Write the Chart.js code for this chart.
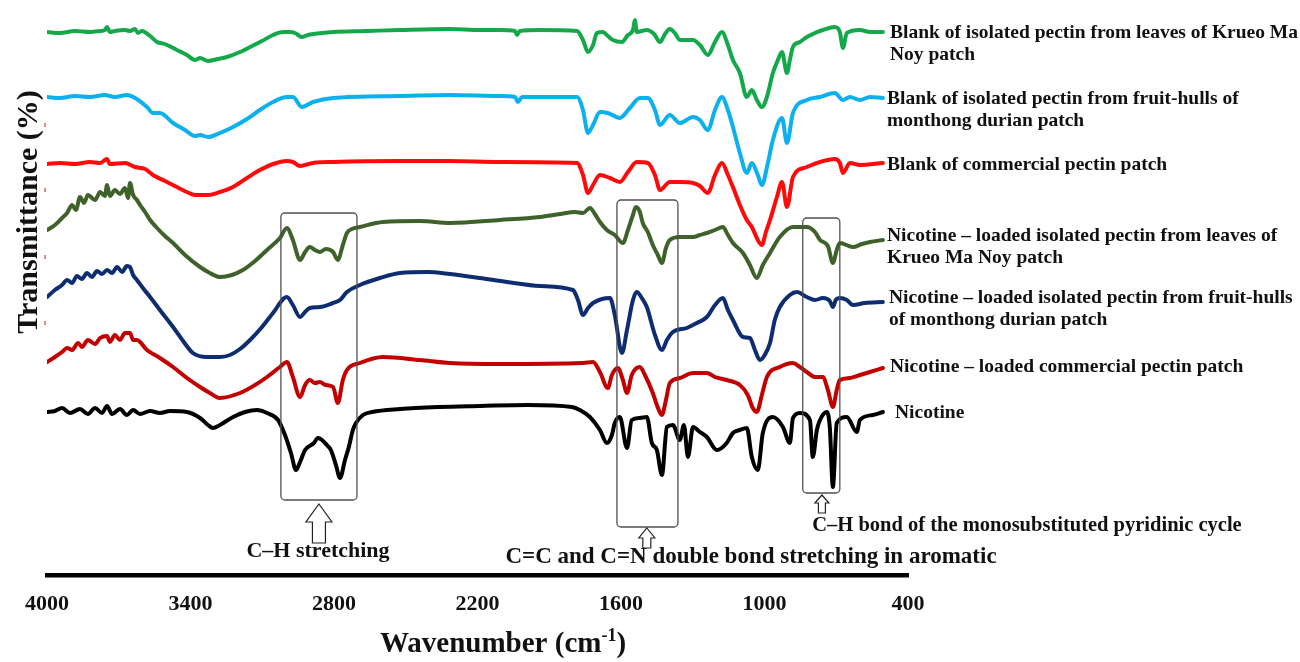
<!DOCTYPE html>
<html><head><meta charset="utf-8">
<script src="https://cdn.jsdelivr.net/npm/chart.js@4.4.1/dist/chart.umd.min.js"></script>
<style>html,body{margin:0;padding:0;background:#fff}#wrap{width:1300px;height:662px;position:relative}</style>
</head><body><div id="wrap"><canvas id="c"></canvas></div>
<script>
// ---- DATA (wavenumber cm-1, relative transmittance with vertical offsets) ----
const xTickValues = [4000, 3400, 2800, 2200, 1600, 1000, 400];

const seriesNames = [
  ["Blank of isolated pectin from leaves of Krueo Ma", "Noy patch"],
  ["Blank of isolated pectin from fruit-hulls of", "monthong durian patch"],
  ["Blank of commercial pectin patch"],
  ["Nicotine \u2013 loaded isolated pectin from leaves of", "Krueo Ma Noy patch"],
  ["Nicotine \u2013 loaded isolated pectin from fruit-hulls", "of monthong durian patch"],
  ["Nicotine \u2013 loaded commercial pectin patch"],
  ["Nicotine"]
];

const blankLeaves = [[4000,543],[3946,542],[3883,544],[3820,543],[3778,544],[3758,545],[3749,548],[3737,543],[3716,544],[3674,545],[3653,544],[3632,546],[3620,542],[3603,544],[3569,539],[3540,533],[3507,531],[3457,525],[3415,520],[3381,515],[3360,517],[3327,514],[3285,516],[3248,518],[3193,523],[3151,528],[3101,534],[3055,540],[3013,543],[2984,543],[2963,542],[2934,538],[2909,540],[2888,541],[2804,543],[2662,544],[2524,545],[2315,546],[2190,545],[2106,545],[2043,544],[2035,540],[2023,544],[1939,545],[1784,544],[1759,535],[1738,523],[1717,530],[1701,542],[1676,543],[1655,539],[1634,535],[1596,533],[1571,540],[1550,545],[1542,555],[1534,543],[1492,545],[1462,541],[1437,533],[1416,541],[1396,546],[1375,542],[1354,535],[1299,535],[1270,530],[1237,520],[1207,533],[1178,543],[1153,530],[1132,515],[1103,502],[1074,478],[1053,485],[1032,475],[1011,468],[990,478],[965,502],[944,515],[927,523],[906,502],[894,515],[881,528],[852,533],[823,538],[789,542],[756,545],[706,548],[685,543],[672,527],[656,542],[601,545],[559,543],[505,543]];

const blankDurian = [[4000,478],[3946,477],[3883,479],[3820,478],[3758,480],[3716,478],[3666,480],[3632,477],[3582,468],[3557,462],[3528,462],[3473,452],[3423,445],[3381,439],[3360,440],[3327,438],[3277,442],[3222,448],[3164,456],[3110,465],[3055,473],[2997,478],[2972,478],[2934,468],[2888,473],[2804,477],[2524,479],[2315,480],[2106,479],[2043,478],[2031,473],[2014,478],[1784,478],[1759,465],[1738,442],[1717,450],[1688,463],[1655,462],[1605,457],[1563,467],[1521,477],[1488,477],[1458,465],[1437,450],[1396,460],[1354,452],[1299,458],[1270,455],[1237,445],[1207,465],[1178,478],[1153,465],[1132,448],[1103,422],[1074,402],[1053,412],[1028,400],[1011,390],[986,412],[965,435],[927,457],[906,432],[881,462],[823,475],[768,478],[706,482],[672,475],[643,478],[601,475],[559,478],[505,477]];

const blankCommercial = [[4000,411],[3946,412],[3883,411],[3820,413],[3778,412],[3749,416],[3737,411],[3674,412],[3632,408],[3590,406],[3557,400],[3507,394],[3457,388],[3415,383],[3381,380],[3327,380],[3277,383],[3222,388],[3164,397],[3110,405],[3055,411],[2997,414],[2972,413],[2942,409],[2888,412],[2804,413],[2524,414],[2315,414],[2106,413],[1784,412],[1759,400],[1738,382],[1717,390],[1688,400],[1646,397],[1605,393],[1571,403],[1534,413],[1488,412],[1458,400],[1437,385],[1396,393],[1354,393],[1299,392],[1270,389],[1237,382],[1207,400],[1178,412],[1153,400],[1132,388],[1103,370],[1074,355],[1053,348],[1028,335],[1011,330],[994,343],[977,355],[948,378],[927,393],[906,368],[881,398],[823,408],[768,413],[706,416],[685,412],[672,402],[643,412],[601,410],[505,412]];

const loadedLeaves = [[4000,345],[3967,350],[3937,357],[3916,362],[3895,370],[3879,365],[3862,378],[3845,372],[3829,380],[3799,375],[3778,383],[3758,379],[3749,390],[3737,379],[3716,385],[3695,381],[3674,387],[3661,377],[3653,392],[3640,380],[3624,375],[3611,370],[3590,363],[3569,355],[3540,347],[3507,339],[3473,332],[3423,320],[3360,308],[3319,302],[3277,298],[3227,300],[3181,305],[3130,314],[3080,325],[3026,337],[2997,347],[2972,335],[2942,315],[2921,323],[2901,328],[2880,325],[2859,323],[2834,326],[2804,323],[2784,315],[2763,330],[2746,342],[2725,346],[2692,348],[2595,353],[2441,354],[2315,352],[2106,355],[1939,358],[1855,361],[1793,363],[1759,362],[1730,367],[1709,361],[1688,353],[1659,345],[1626,340],[1592,332],[1571,345],[1550,360],[1538,368],[1521,363],[1509,352],[1488,343],[1467,330],[1446,320],[1429,312],[1412,327],[1396,335],[1354,338],[1299,338],[1270,340],[1241,342],[1207,345],[1174,348],[1153,340],[1132,332],[1090,322],[1061,310],[1032,297],[1007,310],[977,322],[936,338],[881,348],[823,348],[789,343],[768,335],[735,329],[714,312],[698,325],[685,332],[630,328],[593,331],[559,333],[505,335]];

const loadedDurian = [[4000,278],[3967,285],[3937,290],[3916,295],[3895,292],[3875,299],[3854,296],[3833,302],[3812,298],[3791,304],[3770,301],[3749,305],[3728,302],[3707,308],[3686,303],[3666,309],[3653,308],[3640,300],[3624,295],[3599,287],[3569,278],[3528,265],[3473,248],[3431,234],[3390,222],[3331,218],[3277,218],[3235,220],[3193,226],[3151,235],[3101,248],[3055,262],[2997,278],[2972,270],[2942,258],[2921,263],[2901,267],[2859,268],[2804,272],[2775,275],[2746,283],[2692,290],[2608,297],[2524,302],[2411,303],[2315,301],[2190,297],[2077,293],[1939,289],[1801,285],[1780,275],[1759,260],[1738,267],[1717,272],[1646,277],[1626,260],[1596,222],[1575,245],[1550,275],[1534,283],[1513,277],[1492,268],[1458,240],[1429,225],[1408,235],[1383,243],[1325,247],[1283,252],[1241,258],[1207,270],[1174,277],[1153,265],[1132,255],[1090,238],[1061,237],[1040,225],[1019,215],[999,220],[977,232],[957,255],[936,268],[894,280],[865,283],[823,278],[789,275],[756,277],[727,274],[714,268],[702,275],[685,277],[656,275],[630,270],[581,272],[505,273]];

const loadedCommercial = [[4000,213],[3967,218],[3937,223],[3916,227],[3895,225],[3870,232],[3854,228],[3829,235],[3799,231],[3778,237],[3749,239],[3737,233],[3716,240],[3695,235],[3674,242],[3653,242],[3640,235],[3624,235],[3582,225],[3528,217],[3473,208],[3415,197],[3360,188],[3319,182],[3277,177],[3193,182],[3130,190],[3080,198],[3026,208],[2997,213],[2972,198],[2942,178],[2921,190],[2901,195],[2880,192],[2859,193],[2834,190],[2804,188],[2784,172],[2763,195],[2746,205],[2692,212],[2595,218],[2441,215],[2315,212],[2106,211],[1759,212],[1717,213],[1688,203],[1655,187],[1638,200],[1613,207],[1592,195],[1575,182],[1555,200],[1521,208],[1500,200],[1467,182],[1450,170],[1429,160],[1412,175],[1396,192],[1354,197],[1299,202],[1241,202],[1207,198],[1158,195],[1103,190],[1070,180],[1049,167],[1032,163],[1011,180],[990,198],[936,208],[881,212],[852,208],[823,203],[789,198],[756,198],[735,185],[714,168],[698,185],[685,195],[643,197],[601,200],[559,203],[505,207]];

const nicotine = [[4000,163],[3967,164],[3937,167],[3904,162],[3862,166],[3829,161],[3799,167],[3770,162],[3749,169],[3728,161],[3695,166],[3666,160],[3640,165],[3611,161],[3569,164],[3528,162],[3486,164],[3415,163],[3360,157],[3327,150],[3306,147],[3277,150],[3222,158],[3172,163],[3122,165],[3080,162],[3034,155],[3005,140],[2980,122],[2959,105],[2942,113],[2921,125],[2884,132],[2867,137],[2850,135],[2830,130],[2813,125],[2792,110],[2775,97],[2754,115],[2738,128],[2721,145],[2708,152],[2679,160],[2641,163],[2524,166],[2361,168],[2190,169],[1989,170],[1805,168],[1772,165],[1730,158],[1688,145],[1659,132],[1638,140],[1626,152],[1605,158],[1575,127],[1555,155],[1521,157],[1492,158],[1471,132],[1450,125],[1429,100],[1408,148],[1383,150],[1354,135],[1337,150],[1320,118],[1299,148],[1270,143],[1241,138],[1199,125],[1158,132],[1132,142],[1103,145],[1074,147],[1053,118],[1028,105],[1007,142],[965,158],[923,148],[894,132],[881,157],[852,162],[810,155],[798,118],[781,145],[768,155],[739,163],[727,148],[714,88],[698,152],[656,158],[614,143],[601,155],[547,160],[505,163]];

// ---- STYLE ----
const seriesData = [blankLeaves, blankDurian, blankCommercial, loadedLeaves, loadedDurian, loadedCommercial, nicotine];
const seriesColors = ['#14a84b', '#0db0ee', '#ff0a0a', '#3e6229', '#0e2d70', '#c20000', '#000000'];
const labelPos = [[890, 33], [887, 99], [887, 165], [887, 236], [889, 298], [890, 367], [895, 413]];

const boxes = [
  {wnFrom: 3022, wnTo: 2704, tTop: 362, tBottom: 75},
  {wnFrom: 1617, wnTo: 1362, tTop: 375, tBottom: 48},
  {wnFrom: 840, wnTo: 685, tTop: 357, tBottom: 82}
];
const arrows = [
  {wn: 2863, tTip: 71, tBase: 53, tEnd: 32, head: 13, shaft: 6.5},
  {wn: 1492, tTip: 47, tBase: 37, tEnd: 27, head: 8, shaft: 4},
  {wn: 760, tTip: 80, tBase: 72, tEnd: 62, head: 7, shaft: 3.5}
];
const annotTexts = [
  {text: 'C\u2013H stretching', x: 318, y: 551, size: 22},
  {text: 'C=C and C=N double bond stretching in aromatic', x: 751, y: 557, size: 23},
  {text: 'C\u2013H bond of the monosubstituted pyridinic cycle', x: 1027, y: 526, size: 20.5}
];

const FAM = '"Liberation Serif","Times New Roman",serif';
const font = s => 'bold ' + s + 'px ' + FAM;

function rr(ctx, x, y, w, h, r) {
  ctx.beginPath();
  ctx.moveTo(x + r, y); ctx.lineTo(x + w - r, y); ctx.arcTo(x + w, y, x + w, y + r, r);
  ctx.lineTo(x + w, y + h - r); ctx.arcTo(x + w, y + h, x + w - r, y + h, r);
  ctx.lineTo(x + r, y + h); ctx.arcTo(x, y + h, x, y + h - r, r);
  ctx.lineTo(x, y + r); ctx.arcTo(x, y, x + r, y, r); ctx.closePath();
}

const overlay = {
  id: 'overlay',
  afterDatasetsDraw(chart) {
    const ctx = chart.ctx, xs = chart.scales.x, ys = chart.scales.y;
    ctx.save();
    // boxes
    ctx.strokeStyle = '#505050'; ctx.lineWidth = 1.3;
    boxes.forEach(b => {
      const x1 = xs.getPixelForValue(b.wnFrom), x2 = xs.getPixelForValue(b.wnTo);
      const y1 = ys.getPixelForValue(b.tTop), y2 = ys.getPixelForValue(b.tBottom);
      rr(ctx, x1, y1, x2 - x1, y2 - y1, 4); ctx.stroke();
    });
    // hollow arrows
    ctx.fillStyle = '#fff'; ctx.strokeStyle = '#222'; ctx.lineWidth = 1.2;
    arrows.forEach(a => {
      const cx = xs.getPixelForValue(a.wn), yt = ys.getPixelForValue(a.tTip),
            yb = ys.getPixelForValue(a.tBase), ye = ys.getPixelForValue(a.tEnd);
      ctx.beginPath();
      ctx.moveTo(cx, yt); ctx.lineTo(cx + a.head, yb); ctx.lineTo(cx + a.shaft, yb);
      ctx.lineTo(cx + a.shaft, ye); ctx.lineTo(cx - a.shaft, ye); ctx.lineTo(cx - a.shaft, yb);
      ctx.lineTo(cx - a.head, yb); ctx.closePath(); ctx.fill(); ctx.stroke();
    });
    // small marks at left edge
    ctx.fillStyle = '#e58a8a';
    [450, 385, 318, 252].forEach(t => { const y = ys.getPixelForValue(t); ctx.fillRect(44, y - 2, 2, 4); });
    // series labels
    ctx.fillStyle = '#111'; ctx.textBaseline = 'middle'; ctx.textAlign = 'left';
    ctx.font = font(19.5);
    seriesNames.forEach((lines, i) => {
      const [lx, ly] = labelPos[i];
      lines.forEach((ln, j) => ctx.fillText(ln, lx, ly + j * 22));
    });
    // annotation texts
    ctx.textAlign = 'center';
    annotTexts.forEach(a => { ctx.font = font(a.size); ctx.fillText(a.text, a.x, a.y); });
    // x axis title with superscript
    const t1 = 'Wavenumber (cm', sup = '-1', t2 = ')';
    ctx.textBaseline = 'alphabetic';
    ctx.font = font(29); const w1 = ctx.measureText(t1).width, w3 = ctx.measureText(t2).width;
    ctx.font = font(18); const w2 = ctx.measureText(sup).width;
    const sx = 503 - (w1 + w2 + w3) / 2; const by = 652;
    ctx.textAlign = 'left';
    ctx.font = font(29); ctx.fillText(t1, sx, by);
    ctx.font = font(18); ctx.fillText(sup, sx + w1, by - 11);
    ctx.font = font(29); ctx.fillText(t2, sx + w1 + w2, by);
    // y axis title
    ctx.save(); ctx.translate(29, 212); ctx.rotate(-Math.PI / 2);
    ctx.textAlign = 'center'; ctx.textBaseline = 'middle'; ctx.font = font(30); ctx.fillText('Transmittance (%)', 0, 0);
    ctx.restore();
    ctx.restore();
  }
};

new Chart(document.getElementById('c'), {
  type: 'line',
  data: {
    datasets: seriesData.map((d, i) => ({
      label: seriesNames[i].join(' '),
      data: d.map(p => ({x: p[0], y: p[1]})),
      borderColor: seriesColors[i],
      borderWidth: 4,
      pointRadius: 0,
      fill: false,
      cubicInterpolationMode: 'monotone',
      borderJoinStyle: 'round',
      borderCapStyle: 'round'
    }))
  },
  options: {
    responsive: true, maintainAspectRatio: false, animation: false,
    layout: {padding: {left: 47, right: 392, top: 0, bottom: 0}},
    plugins: {legend: {display: false}, tooltip: {enabled: false}},
    scales: {
      x: {
        type: 'linear', reverse: true, min: 400, max: 4000,
        afterBuildTicks: s => { s.ticks = xTickValues.map(v => ({value: v})); },
        afterFit: s => { s.height = 87; },
        grid: {display: false, drawTicks: false},
        border: {display: true, color: '#000', width: 4.5},
        ticks: {color: '#111', font: {family: FAM, size: 22, weight: 'bold'}, padding: 16, maxRotation: 0, autoSkip: false,
                callback: v => String(v)}
      },
      y: {display: false, min: 0, max: 575}
    }
  },
  plugins: [overlay]
});
</script></body></html>
